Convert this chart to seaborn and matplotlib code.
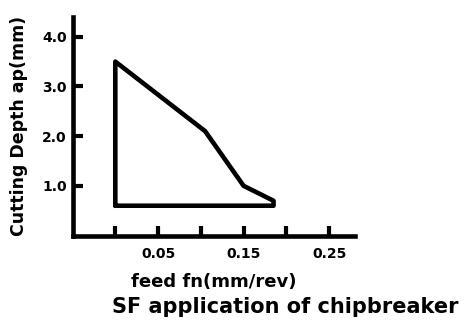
import seaborn as sns
import matplotlib.pyplot as plt
import pandas as pd

# outline of the SF application area (feed, depth), closed
feed = [0.0, 0.0, 0.105, 0.15, 0.185, 0.185, 0.0]
depth = [0.6, 3.5, 2.1, 1.0, 0.7, 0.6, 0.6]

x_ticks = [0.0, 0.05, 0.10, 0.15, 0.20, 0.25]
x_labels = ['', '0.05', '', '0.15', '', '0.25']
y_ticks = [1.0, 2.0, 3.0, 4.0]
y_labels = ['1.0', '2.0', '3.0', '4.0']

sns.set_style("ticks")
plt.rcParams['font.family'] = ['DejaVu Sans']
plt.rcParams['font.weight'] = 'bold'
plt.rcParams['text.color'] = 'black'
plt.rcParams['axes.labelcolor'] = 'black'
plt.rcParams['xtick.color'] = 'black'
plt.rcParams['ytick.color'] = 'black'

df = pd.DataFrame({'feed': feed, 'depth': depth})

fig = plt.figure(figsize=(4.65, 3.24), dpi=100)
ax = fig.add_axes([0.156, 0.273, 0.607, 0.675])

sns.lineplot(data=df, x='feed', y='depth', sort=False, estimator=None,
             color='black', linewidth=3.3, ax=ax)
for l in ax.lines:
    l.set_solid_joinstyle('round')
    l.set_solid_capstyle('round')

ax.set_xlim(-0.05, 0.28)
ax.set_ylim(0, 4.4)
ax.set_xticks(x_ticks)
ax.set_xticklabels(x_labels)
ax.set_yticks(y_ticks)
ax.set_yticklabels(y_labels)

sns.despine(ax=ax)
for s in ['left', 'bottom']:
    ax.spines[s].set_linewidth(3.3)
    ax.spines[s].set_color('black')
ax.tick_params(direction='in', length=7, width=3, labelsize=10)
ax.tick_params(axis='x', pad=8)
ax.tick_params(axis='y', pad=4)
for t in ax.get_xticklabels() + ax.get_yticklabels():
    t.set_fontweight('bold')

ax.set_xlabel('feed fn(mm/rev)', fontsize=13, fontweight='bold', labelpad=9)
ax.set_ylabel('Cutting Depth ap(mm)', fontsize=12.5, fontweight='bold', labelpad=10)
ax.grid(False)

fig.text(0.613, 0.034, 'SF application of chipbreaker', ha='center', va='baseline',
         fontsize=15, fontweight='bold')

fig.savefig('out.png', dpi=100)
